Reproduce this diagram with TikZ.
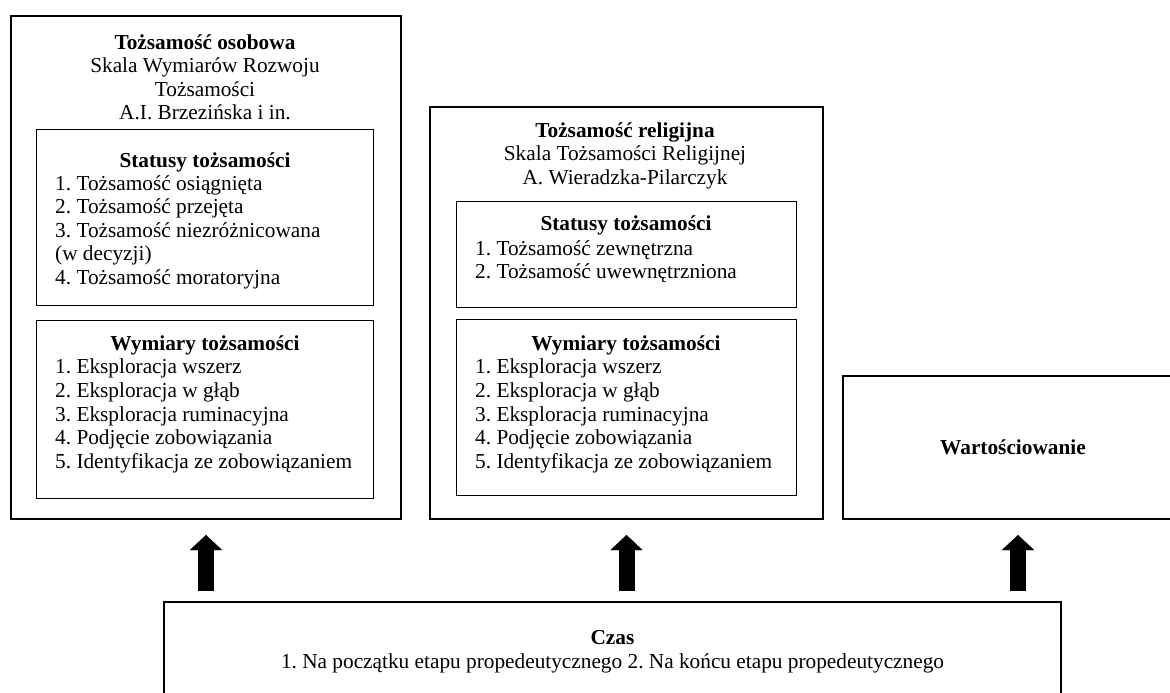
\documentclass[tikz,border=0pt]{standalone}
\usepackage{fontspec}
\setmainfont{Liberation Serif}
\usetikzlibrary{arrows.meta,positioning,calc}
\frenchspacing

\begin{document}
\begin{tikzpicture}[
  x=1pt,y=-1pt,
  font=\fontsize{21.3}{23.6}\selectfont,
  outer/.style={draw,line width=2pt,anchor=north west,inner sep=0pt},
  inbox/.style={draw,line width=1.3pt,anchor=north west,inner sep=0pt},
  head/.style={anchor=north,align=center,inner sep=0pt},
  items/.style={anchor=north west,align=left,inner sep=0pt},
  arr/.style={-{Triangle[length=15pt,width=32pt,line width=0.01pt]},line width=16pt,shorten <=10pt,shorten >=15pt},
]
\useasboundingbox (0,0) rectangle (1170,693);
% tozsamosc osobowa
\node[outer,minimum width=390pt,minimum height=503pt] (os) at (10,15) {};
\node[head] (osT) at (205,34) {\textbf{Tożsamość osobowa}\\Skala Wymiarów Rozwoju\\Tożsamości\\A.I. Brzezińska i in.};
\node[inbox,minimum width=337pt,minimum height=176pt] (st1) at (36,129) {};
\node[head] (st1h) at (205,152) {\textbf{Statusy tożsamości}};
\node[items] (st1l) at (55,175) {1. Tożsamość osiągnięta\\2. Tożsamość przejęta\\3. Tożsamość niezróżnicowana\\(w decyzji)\\4. Tożsamość moratoryjna};
\node[inbox,minimum width=337pt,minimum height=178pt] (wy1) at (36,320) {};
\node[head] (wy1h) at (205,335) {\textbf{Wymiary tożsamości}};
\node[items] (wy1l) at (55,359) {1. Eksploracja wszerz\\2. Eksploracja w głąb\\3. Eksploracja ruminacyjna\\4. Podjęcie zobowiązania\\5. Identyfikacja ze zobowiązaniem};
% tozsamosc religijna
\node[outer,minimum width=393pt,minimum height=412pt] (rel) at (429,106) {};
\node[head] (relT) at (625,122) {\textbf{Tożsamość religijna}\\Skala Tożsamości Religijnej\\A. Wieradzka-Pilarczyk};
\node[inbox,minimum width=340pt,minimum height=106pt] (st2) at (456,201) {};
\node[head] (st2h) at (626,215) {\textbf{Statusy tożsamości}};
\node[items] (st2l) at (475,240) {1. Tożsamość zewnętrzna\\2. Tożsamość uwewnętrzniona};
\node[inbox,minimum width=340pt,minimum height=176pt] (wy2) at (456,319) {};
\node[head] (wy2h) at (626,335) {\textbf{Wymiary tożsamości}};
\node[items] (wy2l) at (475,359) {1. Eksploracja wszerz\\2. Eksploracja w głąb\\3. Eksploracja ruminacyjna\\4. Podjęcie zobowiązania\\5. Identyfikacja ze zobowiązaniem};
% wartosciowanie i czas
\node[outer,minimum width=340pt,minimum height=143pt] (war) at (842,375) {\textbf{Wartościowanie}};
\node[outer,align=center,minimum width=897pt,minimum height=100pt] (czas) at (163,601) {\textbf{Czas}\\1. Na początku etapu propedeutycznego 2. Na końcu etapu propedeutycznego};
\draw[arr] (czas.north -| os.south) -- (os.south);
\draw[arr] (czas.north -| rel.south) -- (rel.south);
\draw[arr] ([xshift=5pt]war.south |- czas.north) -- ([xshift=5pt]war.south);
\end{tikzpicture}
\end{document}
